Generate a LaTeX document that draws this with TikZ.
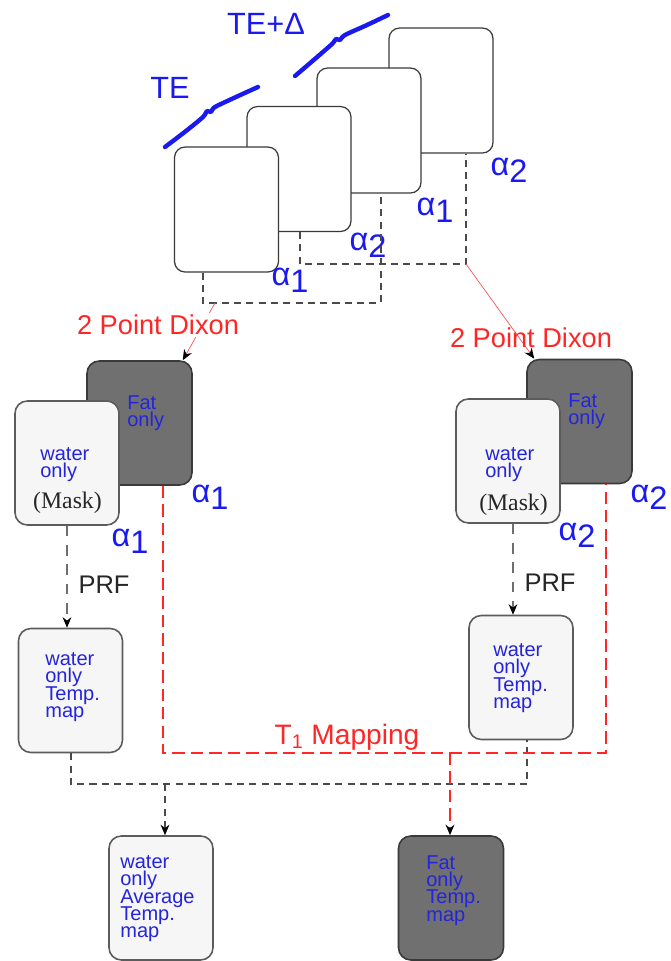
\documentclass[tikz,border=0pt]{standalone}
\usepackage{fontspec}
\setmainfont{Liberation Sans}
\newfontfamily\maskfont{Liberation Serif}
\usetikzlibrary{arrows.meta}
\definecolor{EchoBlue}{HTML}{1A1AF0}
\definecolor{TextBlue}{HTML}{2424DD}
\definecolor{DixonRed}{HTML}{FF2626}
\definecolor{FatGray}{HTML}{707070}
\definecolor{WaterGray}{HTML}{F6F6F6}
\definecolor{EdgeGray}{HTML}{3A3A3A}
\definecolor{LinkGray}{HTML}{4A4A4A}
\newcommand{\alab}[1]{α\raisebox{-0.2em}{#1}}
\lineskiplimit=-20pt
\tikzset{
  framenode/.style={
    draw=EdgeGray,fill=white,line width=0.7pt,rounded corners=6pt,
    minimum width=2.08cm,minimum height=2.5cm,inner sep=0pt
  },
  fatnode/.style={
    draw=EdgeGray,fill=FatGray,line width=0.9pt,rounded corners=7pt,
    minimum width=2.1cm,minimum height=2.48cm,inner sep=0pt
  },
  waternode/.style={
    draw=LinkGray!90,fill=WaterGray,line width=0.9pt,rounded corners=7pt,
    minimum width=2.08cm,minimum height=2.48cm,inner sep=0pt
  },
  boxtext/.style={
    anchor=north west,inner sep=0pt,align=left,text=TextBlue,
    font=\fontsize{11.4}{9.9}\selectfont
  },
  masktext/.style={inner sep=0pt,text=black!85,font=\maskfont\fontsize{13.5}{15}\selectfont},
  alphatext/.style={inner sep=0pt,text=EchoBlue,font=\fontsize{18.5}{20}\selectfont},
  echotext/.style={inner sep=0pt,text=EchoBlue,font=\fontsize{17.5}{20}\selectfont},
  dixontext/.style={inner sep=1pt,text=DixonRed,font=\fontsize{15.5}{18}\selectfont},
  prftext/.style={inner sep=0pt,text=black!85,font=\fontsize{14.5}{17}\selectfont},
  pairline/.style={draw=LinkGray,line width=0.9pt,dash pattern=on 4pt off 3pt},
  prfline/.style={draw=LinkGray!80,line width=0.8pt,dash pattern=on 6pt off 5pt},
  t1line/.style={draw=DixonRed,line width=1.6pt,dash pattern=on 7pt off 3.5pt},
  dixonline/.style={draw=DixonRed!80,line width=0.4pt},
  echowave/.style={draw=EchoBlue,line width=2.5pt,line cap=round,line join=round},
  arrowtip/.style={-{Stealth[length=6pt,width=5pt,color=black]}},
}

\begin{document}
\begin{tikzpicture}[x=0.02cm,y=-0.02cm]
  \useasboundingbox (0,0) rectangle (670,961);
  \node[framenode] (f4) at (441,90.5) {};
  \node[framenode] (f3) at (369,130.5) {};
  \node[framenode] (f2) at (299,169) {};
  \node[framenode] (f1) at (226.5,209.5) {};
  \draw[echowave] plot[smooth,tension=0.5] coordinates {(165,147) (186,131) (203,117) (207,111) (211,112) (215,107) (236,97) (258,87)};
  \draw[echowave] plot[smooth,tension=0.5] coordinates {(295,76) (316,58) (332,44) (336,39) (340,40) (345,35) (367,25) (388,15)};
  \node[echotext] (te) at (170,88) {TE};
  \node[echotext] (ted) at (266,24) {TE+Δ};
  \node[alphatext] (a1) at (290,280) {\alab{1}};
  \node[alphatext] (a2) at (368,245) {\alab{2}};
  \node[alphatext] (a3) at (435,210) {\alab{1}};
  \node[alphatext] (a4) at (509,170) {\alab{2}};
  \coordinate (pA) at (203,303);
  \coordinate (pB) at (381,303);
  \coordinate (pC) at (215,303);
  \coordinate (qA) at (300,264);
  \coordinate (qB) at (466,264);
  \draw[pairline] (f1.south -| pA) -- (pA) -- (pB) -- (f3.south -| pB);
  \draw[pairline] (f2.south -| qA) -- (qA) -- (qB) -- (f4.south -| qB);

  \node[fatnode] (fatL) at (139.5,423) {};
  \node[waternode] (watL) at (67,463) {};
  \node[fatnode] (fatR) at (579.5,421.5) {};
  \node[waternode] (watR) at (508,461) {};
  \node[boxtext] (fatLt) at (127,395) {Fat\\only};
  \node[boxtext] (watLt) at (40,447) {water\\only};
  \node[masktext] (maskL) at (67.5,503) {(Mask)};
  \node[boxtext] (fatRt) at (568,393) {Fat\\only};
  \node[boxtext] (watRt) at (485,447) {water\\only};
  \node[masktext] (maskR) at (513.5,505) {(Mask)};
  \node[alphatext] (a5) at (210,497) {\alab{1}};
  \node[alphatext] (a6) at (130,541) {\alab{1}};
  \node[alphatext] (a7) at (649,497) {\alab{2}};
  \node[alphatext] (a8) at (577,535) {\alab{2}};

  \draw[dixonline,arrowtip] (pC) -- ([xshift=-0.2cm]fatL.north east);
  \draw[dixonline,arrowtip] (qB) -- ([xshift=0.16cm]fatR.north west);
  \node[dixontext,fill=white] (dixL) at (158,325) {2 Point Dixon};
  \node[dixontext] (dixR) at (531,338) {2 Point Dixon};

  \node[waternode] (tmL) at (70.5,690.5) {};
  \node[waternode] (tmR) at (521,677.5) {};
  \node[boxtext] (tmLt) at (45,652) {water\\only\\Temp.\\map};
  \node[boxtext] (tmRt) at (493,643) {water\\only\\Temp.\\map};
  \coordinate (sR) at ([xshift=0.1cm]watR.south);
  \draw[prfline,arrowtip] (watL.south) -- (watL.south |- tmL.north);
  \draw[prfline,arrowtip] (sR) -- (sR |- tmR.north);
  \node[prftext] (prfL) at (104,585) {PRF};
  \node[prftext] (prfR) at (550,583) {PRF};

  \node[waternode] (avg) at (161,898) {};
  \node[fatnode] (fatT) at (451,898) {};
  \node[boxtext] (avgt) at (120,855) {water\\only\\Average\\Temp.\\map};
  \node[boxtext] (fatTt) at (426,855) {Fat\\only\\Temp.\\map};
  \coordinate (bL) at (71,784);
  \coordinate (bR) at (527,784);
  \coordinate (bM) at (165,784);
  \draw[pairline] (tmL.south -| bL) -- (bL) -- (bR) -- (tmR.south -| bR);
  \draw[pairline,arrowtip] (bM) -- (avg.north -| bM);

  \coordinate (rL) at (163,753);
  \coordinate (rR) at (606,753);
  \coordinate (rM) at (450,753);
  \draw[t1line] (fatL.south -| rL) -- (rL) -- (rR) -- (fatR.south -| rR);
  \draw[t1line,arrowtip] (rM) -- (fatT.north -| rM);
  \node[dixontext,font=\fontsize{16}{18}\selectfont] (t1) at (347,737) {T\textsubscript{1} Mapping};
\end{tikzpicture}
\end{document}
